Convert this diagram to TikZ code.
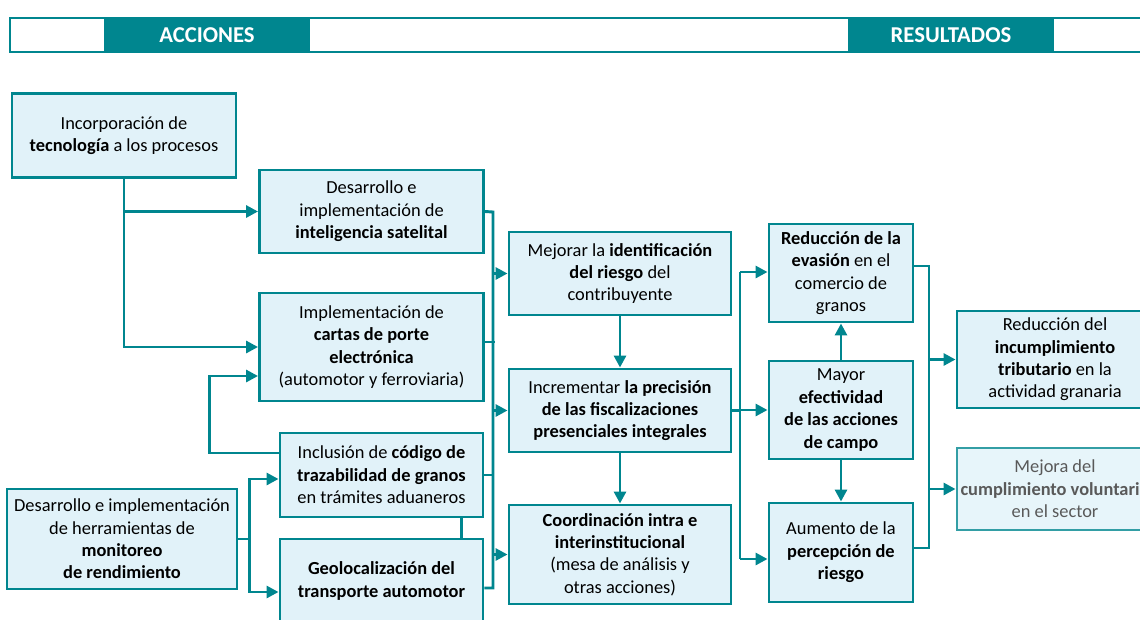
\documentclass[tikz,border=0pt]{standalone}
\usepackage{fontspec}
\setmainfont{Carlito}
\usetikzlibrary{arrows.meta}
\definecolor{frameteal}{HTML}{00868F}
\definecolor{boxfill}{HTML}{E1F2F9}
\begin{document}
\begin{tikzpicture}[x=0.75pt, y=-0.75pt,
   box/.style={draw=frameteal, line width=2.2pt, fill=boxfill, align=center, inner sep=2pt,
      font=\fontsize{13.8}{16.8}\selectfont},
   link/.style={draw=frameteal, line width=2.2pt},
   linkarr/.style={link, -{Triangle[length=9pt,width=9pt]}},
   hdr/.style={fill=frameteal, text=white, minimum width=154.5pt, minimum height=27pt,
      font=\fontsize{17}{20}\selectfont\bfseries}]
   \useasboundingbox (0,0) rectangle (1140,619);

   % Header
   \draw[frameteal, line width=1.5pt, fill=white] (10,18) rectangle (1150,52);
   \node[hdr] (acciones) at (207,35) {ACCIONES};
   \node[hdr] (resultados) at (951,35) {RESULTADOS};

   % Acciones
   \node[box, minimum width=168pt, minimum height=63pt] (tecno) at (124,135.5) {Incorporación de\\\textbf{tecnología} a los procesos};
   \node[box, minimum width=168pt, minimum height=62.25pt] (satel) at (371.5,211.5) {Desarrollo e\\implementación de\\\textbf{inteligencia satelital}};
   \node[box, minimum width=168pt, minimum height=81pt] (cartas) at (371.5,347) {Implementación de\\\textbf{cartas de porte}\\\textbf{electrónica}\\(automotor y ferroviaria)};
   \node[box, minimum width=152.25pt, minimum height=63pt] (codigo) at (381.5,475) {Inclusión de \textbf{código de}\\\textbf{trazabilidad de granos}\\en trámites aduaneros};
   \node[box, minimum width=172.5pt, minimum height=75pt] (monit) at (122,539) {Desarrollo e implementación\\de herramientas de\\\textbf{monitoreo}\\\textbf{de rendimiento}};
   \node[box, minimum width=152.25pt, minimum height=63pt] (geoloc) at (381.5,581) {\textbf{Geolocalización del}\\\textbf{transporte automotor}};

   % Objetivos intermedios
   \node[box, minimum width=166.5pt, minimum height=62.25pt] (ident) at (620,273.5) {Mejorar la \textbf{identificación}\\\textbf{del riesgo} del\\contribuyente};
   \node[box, minimum width=166.5pt, minimum height=62.25pt] (precis) at (620,410.5) {Incrementar \textbf{la precisión}\\\textbf{de las fiscalizaciones}\\\textbf{presenciales integrales}};
   \node[box, minimum width=166.5pt, minimum height=74.25pt] (coord) at (620,554.5) {\textbf{Coordinación intra e}\\\textbf{interinstitucional}\\(mesa de análisis y\\otras acciones)};

   % Resultados
   \node[box, minimum width=108pt, minimum height=73.5pt] (evasion) at (841,273) {\textbf{Reducción de la}\\\textbf{evasión} en el\\comercio de\\granos};
   \node[box, minimum width=108pt, minimum height=73.5pt] (efect) at (841,410) {Mayor\\\textbf{efectividad}\\\textbf{de las acciones}\\\textbf{de campo}};
   \node[box, minimum width=108pt, minimum height=74.25pt] (percep) at (841,552.5) {Aumento de la\\\textbf{percepción de}\\\textbf{riesgo}};
   \node[box, minimum width=147pt, minimum height=72.75pt] (incump) at (1055,359.5) {Reducción del\\\textbf{incumplimiento}\\\textbf{tributario} en la\\actividad granaria};
   \node[box, draw=frameteal!80, fill=boxfill!80, text=black!65, minimum width=147pt, minimum height=61.5pt] (volunt) at (1055,489) {Mejora del\\\textbf{cumplimiento voluntario}\\en el sector};

   % Conexiones de las acciones
   \draw[linkarr] (tecno.south) |- (satel.west);
   \draw[linkarr] (tecno.south) |- (cartas.west);
   \draw[linkarr] ([yshift=16.5pt]codigo.west) -- ++(-69,0) |- ([yshift=-21.75pt]cartas.west);
   \draw[linkarr] (monit.east) -- ++(11,0) |- ([yshift=-3pt]codigo.west);
   \draw[linkarr] (monit.east) -- ++(11,0) |- ([yshift=-8.25pt]geoloc.west);
   \draw[link] ([xshift=60pt]codigo.south) -- ([xshift=60pt]geoloc.north);

   % Primer colector
   \coordinate (busA) at (493,212);
   \coordinate (busAend) at (493,588);
   \draw[link] (satel.east) -- (busA) -- (busAend) -- (busAend -| geoloc.east);
   \draw[link] ([yshift=3.75pt]cartas.east) -- ++(10,0);
   \draw[link] (codigo.east) -- (codigo.east -| busA);
   \draw[linkarr] (ident.west -| busA) -- (ident.west);
   \draw[linkarr] (precis.west -| busA) -- (precis.west);
   \draw[linkarr] (coord.west -| busA) -- (coord.west);
   \draw[linkarr] (ident) -- (precis);
   \draw[linkarr] (precis) -- (coord);

   % Segundo colector
   \coordinate (busB) at (740,272);
   \coordinate (busBend) at (740,559);
   \draw[link] (precis.east) -- (precis.east -| busB);
   \draw[link] (busB) -- (busBend);
   \draw[linkarr] (busB) -- (busB -| evasion.west);
   \draw[linkarr] (efect.west -| busB) -- (efect.west);
   \draw[linkarr] (busBend) -- (busBend -| percep.west);
   \draw[linkarr] (efect) -- (evasion);
   \draw[linkarr] (efect) -- (percep);

   % Tercer colector
   \coordinate (busC) at (929,266);
   \coordinate (busCend) at (929,548);
   \draw[link] (busC -| evasion.east) -- (busC) -- (busCend) -- (busCend -| percep.east);
   \draw[linkarr] (incump.west -| busC) -- (incump.west);
   \draw[linkarr] (volunt.west -| busC) -- (volunt.west);
\end{tikzpicture}
\end{document}
